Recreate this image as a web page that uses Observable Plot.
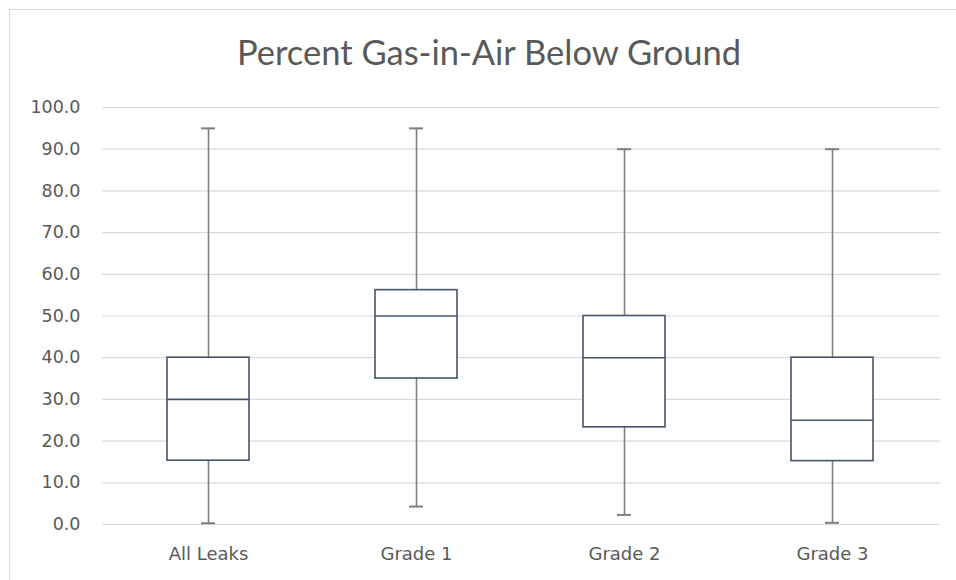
<!DOCTYPE html>
<html>
<head>
<meta charset="utf-8">
<script src="https://cdn.jsdelivr.net/npm/d3@7"></script>
<script src="https://cdn.jsdelivr.net/npm/@observablehq/plot@0.6"></script>
<style>
  html, body { margin: 0; padding: 0; background: #fff; }
  #wrap { position: relative; width: 956px; height: 580px; overflow: hidden; background: #fff; }
  #frame { position: absolute; left: 9px; top: 9px; width: 1000px; height: 1000px; border-left: 1px solid #d9d9d9; border-top: 1px solid #d9d9d9; box-sizing: border-box; }
  #title { position: absolute; left: 9px; width: 960px; top: 29px; text-align: center; font-family: Lato, sans-serif; font-size: 34.5px; color: #595959; line-height: 46px; }
  #chart { position: absolute; left: 0; top: 80px; }
</style>
</head>
<body>
<div id="wrap">
  <div id="frame"></div>
  <div id="title">Percent Gas-in-Air Below Ground</div>
  <div id="chart"></div>
</div>
<script>
const categories = ["All Leaks", "Grade 1", "Grade 2", "Grade 3"];
const minimum = [0.3, 4.3, 2.3, 0.4];
const q1 = [15.3, 35.0, 23.3, 15.2];
const median = [30.0, 50.0, 40.0, 25.0];
const q3 = [40.0, 56.2, 50.0, 40.0];
const maximum = [95.0, 95.0, 90.0, 90.0];
const yTicks = [0, 10, 20, 30, 40, 50, 60, 70, 80, 90, 100];

const data = categories.map((c, i) => ({
  cat: c, min: minimum[i], q1: q1[i], med: median[i], q3: q3[i], max: maximum[i]
}));

const boxInset = 63;
const capInset = 97;
const boxColor = "#44546A";
const whiskerColor = "#7f7f7f";

const chart = Plot.plot({
  width: 956,
  height: 500,
  marginTop: 27,
  marginBottom: 56,
  marginLeft: 102,
  marginRight: 16,
  style: { fontFamily: "DejaVu Sans, sans-serif", fontSize: "17.5px", color: "#595959", background: "transparent" },
  x: { domain: categories, padding: 0, label: null, range: [102, 937] },
  y: { domain: [0, 100], label: null, ticks: yTicks },
  marks: [
    Plot.gridY(yTicks, { stroke: "#d9d9d9", strokeOpacity: 1, strokeWidth: 1.2 }),
    Plot.axisY(yTicks, { tickSize: 0, tickPadding: 22, tickFormat: d3.format(".1f"), fill: "#595959", fontSize: 17.5 }),
    Plot.axisX({ tickSize: 0, tickPadding: 23, fill: "#595959", fontSize: 18 }),
    Plot.ruleX(data, { x: "cat", y1: "min", y2: "max", stroke: whiskerColor, strokeWidth: 1.6 }),
    Plot.tickY(data, { x: "cat", y: "min", stroke: whiskerColor, strokeWidth: 2, insetLeft: capInset, insetRight: capInset }),
    Plot.tickY(data, { x: "cat", y: "max", stroke: whiskerColor, strokeWidth: 2, insetLeft: capInset, insetRight: capInset }),
    Plot.barY(data, { x: "cat", y1: "q1", y2: "q3", fill: "white", stroke: boxColor, strokeWidth: 1.6, insetLeft: boxInset, insetRight: boxInset }),
    Plot.tickY(data, { x: "cat", y: "med", stroke: boxColor, strokeWidth: 1.6, insetLeft: boxInset, insetRight: boxInset })
  ]
});
document.getElementById("chart").appendChild(chart);
</script>
</body>
</html>
